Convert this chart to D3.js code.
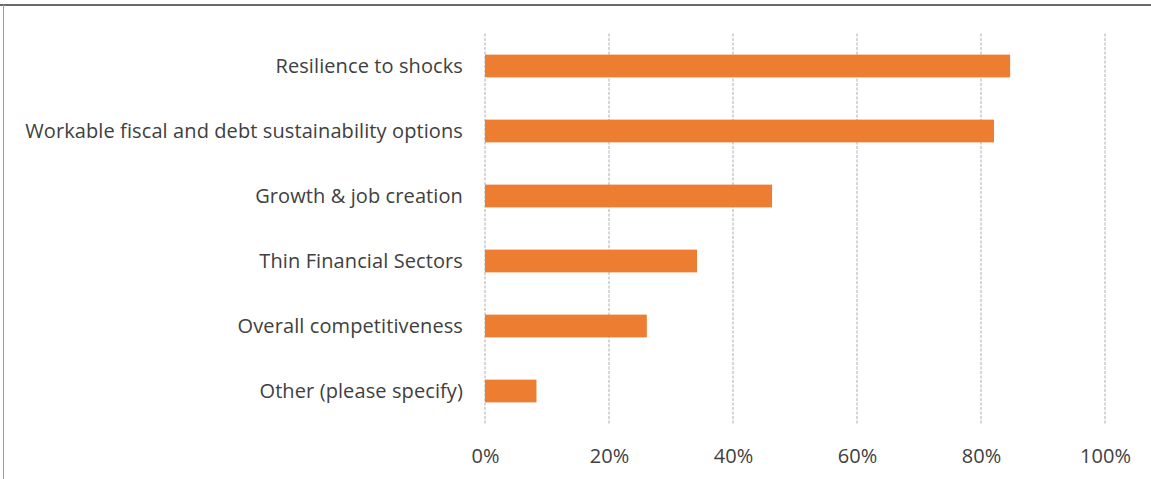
<!DOCTYPE html>
<html>
<head>
<meta charset="utf-8">
<script src="https://cdn.jsdelivr.net/npm/d3@7"></script>
<style>
  html, body { margin: 0; padding: 0; background: #fff; }
  svg { display: block; }
</style>
</head>
<body>
<svg id="chart" width="1151" height="479"></svg>
<script>
// Share of respondents naming each priority
const categories = [
  "Resilience to shocks",
  "Workable fiscal and debt sustainability options",
  "Growth & job creation",
  "Thin Financial Sectors",
  "Overall competitiveness",
  "Other (please specify)"
];
const values = [0.847, 0.821, 0.463, 0.342, 0.261, 0.083];
const tickValues = [0, 0.2, 0.4, 0.6, 0.8, 1.0];

const svg = d3.select("#chart");
const W = 1151, H = 479;
const margin = { left: 485, right: 46, top: 33.5, bottom: 55.5 };
const font = "'Open Sans', 'Segoe UI', sans-serif";

// frame lines
svg.append("line").attr("x1", 0).attr("x2", W).attr("y1", 5).attr("y2", 5)
  .attr("stroke", "#6b6b6b").attr("stroke-width", 2);
svg.append("line").attr("x1", 3.5).attr("x2", 3.5).attr("y1", 5).attr("y2", H)
  .attr("stroke", "#9a9a9a").attr("stroke-width", 1);

const x = d3.scaleLinear().domain([0, 1]).range([margin.left, W - margin.right]);
const y = d3.scaleBand().domain(categories)
  .range([margin.top, H - margin.bottom]).paddingInner(0.65).paddingOuter(0.325);

// vertical gridlines
svg.append("g").selectAll("line").data(tickValues).join("line")
  .attr("x1", d => x(d)).attr("x2", d => x(d))
  .attr("y1", margin.top).attr("y2", H - margin.bottom)
  .attr("stroke", "#c9c9c9").attr("stroke-width", 1.5)
  .attr("stroke-dasharray", "3,1.5");

// bars
svg.append("g").selectAll("rect").data(categories).join("rect")
  .attr("x", x(0))
  .attr("y", d => y(d))
  .attr("width", (d, i) => x(values[i]) - x(0))
  .attr("height", y.bandwidth())
  .attr("fill", "#ED7D31");

// x axis labels
const xAxis = d3.axisBottom(x).tickValues(tickValues).tickFormat(d3.format(".0%")).tickSize(0).tickPadding(0);
const gx = svg.append("g").attr("transform", `translate(0, ${H - margin.bottom + 25})`).call(xAxis);
gx.select(".domain").remove();
gx.selectAll("text").attr("font-family", font).attr("font-size", 20).attr("fill", "#404040");

// category labels
const yAxis = d3.axisLeft(y).tickSize(0).tickPadding(22);
const gy = svg.append("g").attr("transform", `translate(${x(0)}, 1)`).call(yAxis);
gy.select(".domain").remove();
gy.selectAll("text").attr("font-family", font).attr("font-size", 20)
  .attr("letter-spacing", 0.1).attr("fill", "#404040");
</script>
</body>
</html>
